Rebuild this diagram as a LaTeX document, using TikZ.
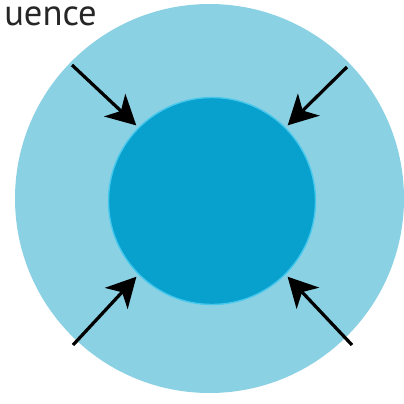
\documentclass[tikz,border=0pt]{standalone}
\usepackage{fontspec}
\setmainfont{PT Sans}
\usetikzlibrary{arrows.meta}

\definecolor{ringblue}{RGB}{139,209,228}
\definecolor{coreblue}{RGB}{8,160,204}
\definecolor{rimblue}{RGB}{70,200,236}

\begin{document}
\begin{tikzpicture}[
  x=0.025cm, y=-0.025cm,
  push/.style={line width=2.3pt, -{Stealth[length=21pt, width=22pt, inset=6pt]}, shorten >=2pt}
]
  \useasboundingbox (0,0) rectangle (404,404);
  \node[circle, fill=ringblue, inner sep=0pt, minimum size=389*0.025cm] (outer) at (209.5,198.5) {};
  \node[circle, fill=coreblue, draw=rimblue, line width=1pt, inner sep=0pt, minimum size=207*0.025cm] (inner) at (212,201) {};
  \node[anchor=base west, inner sep=0pt, font=\fontsize{26}{30}\selectfont, text=black!85] (word) at (4,25) {uence};
  % tails
  \coordinate (tl) at (72,65);
  \coordinate (tr) at (347,67);
  \coordinate (bl) at (73,345);
  \coordinate (br) at (352,345);
  % arrows
  \draw[push] (tl) -- (inner.135);
  \draw[push] (tr) -- (inner.45);
  \draw[push] (bl) -- (inner.225);
  \draw[push] (br) -- (inner.315);

\end{tikzpicture}
\end{document}
